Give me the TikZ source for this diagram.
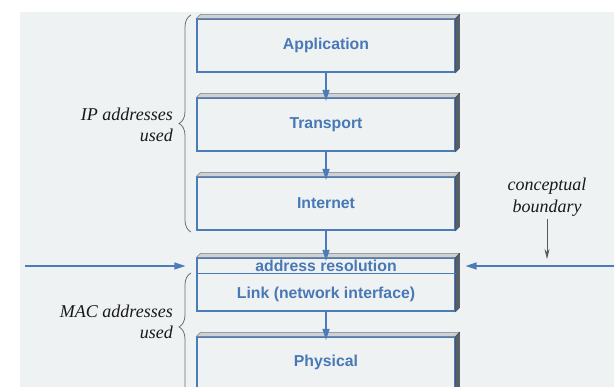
\documentclass[tikz,border=0pt]{standalone}
\usepackage{fontspec}
\setmainfont{Liberation Serif}
\newfontfamily\labelfont{Liberation Sans}
\usetikzlibrary{calc,arrows.meta,decorations.pathreplacing}

\definecolor{pagebg}{RGB}{239,242,242}
\definecolor{layerblue}{RGB}{74,124,188}
\definecolor{layertext}{RGB}{72,120,182}
\definecolor{topface}{RGB}{205,210,214}
\definecolor{topedge}{RGB}{120,126,132}
\definecolor{sideface}{RGB}{88,94,102}
\definecolor{bracegrey}{RGB}{110,110,110}

\tikzset{
  layer/.style={draw=layerblue, line width=1.2pt, fill=pagebg,
    minimum width=258pt, minimum height=53pt, inner sep=0pt},
  layerlabel/.style={text=layertext, font=\labelfont\bfseries\fontsize{15.8}{18}\selectfont, inner sep=0pt},
  note/.style={font=\itshape\fontsize{18}{21.5}\selectfont, text=black!90, inner sep=0pt},
  flow/.style={draw=layerblue, line width=1.4pt, -{Triangle[length=11pt,width=7pt]}},
  boundary/.style={draw=black!65, line width=0.7pt, -{Stealth[length=10pt,width=5pt]}},
  bracket/.style={draw=bracegrey, line width=0.8pt, decorate,
    decoration={brace, amplitude=12pt}},
}

% 3-D top and right faces of a layer slab
\newcommand\slabfaces[1]{%
  \filldraw[fill=topface, draw=topedge, line width=0.6pt]
    (#1.north west) -- ++(4pt,4pt) -- ($(#1.north east)+(4pt,4pt)$) -- (#1.north east) -- cycle;
  \filldraw[fill=sideface, draw=sideface!80!black, line width=0.6pt]
    (#1.north east) -- ++(4pt,4pt) -- ($(#1.south east)+(4pt,4pt)$) -- (#1.south east) -- cycle;
}

\begin{document}
\begin{tikzpicture}[x=1pt, y=-1pt]
  \useasboundingbox (0,0) rectangle (614,387);
  \clip (0,0) rectangle (614,387);
  \fill[pagebg] (20,12) rectangle (614,387);

  % protocol layers
  \node[layer] (app) at (326,45.5) {};
  \node[layer] (tr)  at (326,124.5) {};
  \node[layer] (net) at (326,203.5) {};
  \node[layer] (lk)  at (326,284.5) {};
  \node[layer, minimum height=70pt] (phy) at (326,372) {};
  \slabfaces{app}
  \slabfaces{tr}
  \slabfaces{net}
  \slabfaces{lk}
  \slabfaces{phy}

  \node[layerlabel] (appl) at (app) {Application};
  \node[layerlabel] (trl)  at (tr)  {Transport};
  \node[layerlabel] (netl) at (net) {Internet};
  \node[layerlabel] (ar)   at (326,266) {address resolution};
  \node[layerlabel] (lkl)  at (326,294) {Link (network interface)};
  \node[layerlabel] (phyl) at (326,362) {Physical};

  % divider between address resolution and link
  \draw[draw=layerblue, line width=1.2pt]
    ($(lk.north west)+(0,-16pt)$) -- ($(lk.north east)+(0,-16pt)$);

  % downward flow between layers
  \draw[flow, shorten >=-3.5pt] (app.south) -- (tr.north);
  \draw[flow, shorten >=-3.5pt] (tr.south) -- (net.north);
  \draw[flow, shorten >=-3.5pt] (net.south) -- (lk.north);
  \draw[flow, shorten >=-3.5pt] (lk.south) -- (phy.north);

  % horizontal lines meeting the address resolution strip
  \coordinate (leftend) at (25,266);
  \coordinate (rightend) at (614,266);
  \draw[flow, shorten >=11pt] (leftend) -- (ar -| lk.west);
  \draw[flow, shorten >=10pt] (rightend) -- (ar -| lk.east);

  % conceptual boundary
  \node[note, align=center] (cb) at (547,197) {conceptual\\boundary};
  \coordinate (cbtip) at (547,259);
  \draw[boundary] ($(cb.south)+(0,-3pt)$) -- (cbtip);

  % address scopes
  \coordinate (iptop) at (191,15);
  \coordinate (ipbot) at (191,232);
  \draw[bracket] (ipbot) -- (iptop);
  \node[note, align=right, anchor=east] (ipl) at (173,125) {IP addresses\\used};

  \coordinate (mactop) at (191,273);
  \coordinate (macbot) at (191,420);
  \draw[bracket, decoration={brace, amplitude=12pt, aspect=0.633}] (macbot) -- (mactop);
  \node[note, align=right, anchor=east] (macl) at (173,322) {MAC addresses\\used};
\end{tikzpicture}
\end{document}
